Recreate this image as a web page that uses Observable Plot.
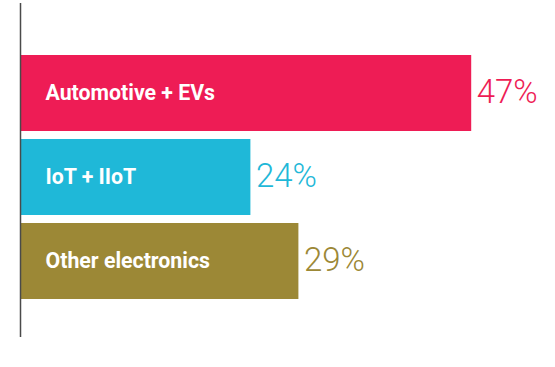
<!DOCTYPE html>
<html>
<head>
<meta charset="utf-8">
<script src="https://cdn.jsdelivr.net/npm/d3@7"></script>
<script src="https://cdn.jsdelivr.net/npm/@observablehq/plot@0.6"></script>
<style>
  html, body { margin: 0; padding: 0; background: #fff; }
  svg { display: block; }
</style>
</head>
<body>
<div id="chart"></div>
<script>
const categories = ["Automotive + EVs", "IoT + IIoT", "Other electronics"];
const shares = [47, 24, 29];
const valueLabels = ["47%", "24%", "29%"];
const colors = ["#EE1C55", "#1FB8D8", "#9C8836"];

const data = categories.map((c, i) => ({category: c, share: shares[i], label: valueLabels[i]}));

const chart = Plot.plot({
  width: 555,
  height: 367,
  marginLeft: 20,
  marginRight: 55,
  marginTop: 3,
  marginBottom: 30,
  style: {fontFamily: "Roboto, sans-serif", background: "#fff"},
  x: {domain: [0, 50], axis: null},
  y: {domain: categories, axis: null, paddingInner: 0.0947, paddingOuter: 0.5237, align: 0.576},
  color: {domain: categories, range: colors},
  marks: [
    Plot.barX(data, {x: "share", y: "category", fill: "category"}),
    Plot.ruleX([0], {stroke: "#4a4a4a", strokeWidth: 1.5}),
    Plot.text(data, {x: 0, y: "category", text: "category", textAnchor: "start", dx: 25, fill: "white", fontSize: 21.3, fontWeight: 700}),
    Plot.text(data, {x: "share", y: "category", text: "label", textAnchor: "start", dx: 5, dy: -1.5, fill: "category", fontSize: 33, fontWeight: 300})
  ]
});
document.getElementById("chart").appendChild(chart);
</script>
</body>
</html>
